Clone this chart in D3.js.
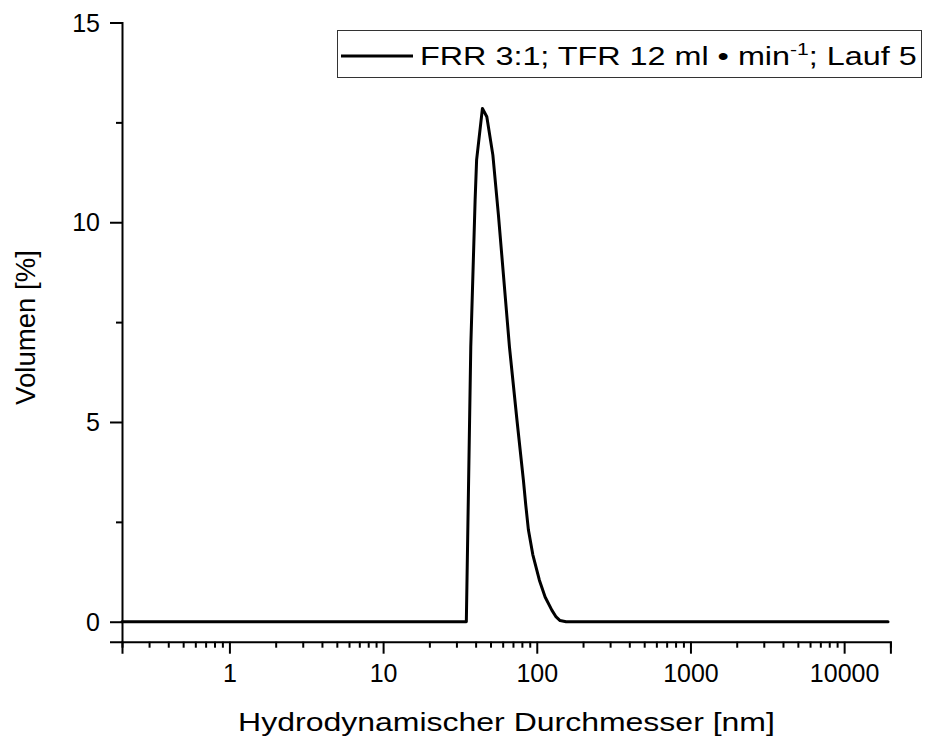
<!DOCTYPE html>
<html>
<head>
<meta charset="utf-8">
<script src="https://cdn.jsdelivr.net/npm/d3@7"></script>
<style>
  html, body { margin: 0; padding: 0; background: #fff; }
  svg { display: block; font-family: "Liberation Sans", Arial, sans-serif; }
</style>
</head>
<body>
<svg id="chart" width="925" height="740"></svg>
<script>
// ---- data ----
const sizes   = [0.2, 34.8, 37.2, 39.7, 40.6, 44.3, 47.3, 51.8, 56.3, 66.4, 74.3, 81.8, 84.8, 88.2, 94.2, 104.0, 113.3, 125.3, 133.6, 141.8, 155.1, 19300];
const volumes = [0,   0,    6.88, 10.56, 11.56, 12.85, 12.64, 11.68, 10.18, 6.88, 5.05, 3.55, 2.92, 2.30, 1.68, 1.04, 0.62, 0.29, 0.12, 0.03, 0, 0];
const xMajorTicks = [1, 10, 100, 1000, 10000];
const yMajorTicks = [0, 5, 10, 15];
const yMinorTicks = [2.5, 7.5, 12.5];
const seriesName = "FRR 3:1; TFR 12 ml \u2022 min";
const xTitle = "Hydrodynamischer Durchmesser [nm]";
const yTitle = "Volumen [%]";

// ---- layout ----
const FONT = '"Liberation Sans", Arial, sans-serif';
const svg = d3.select("#chart");
const x = d3.scaleLog().domain([0.2, 20000]).range([122, 890.4]);
const y = d3.scaleLinear().domain([-0.5, 15]).range([641.7, 22.5]);

// stretch factor so a text element reaches the reference width
function fitWidth(textSel, target) {
  const w = textSel.node().getBBox().width;
  return target / w;
}

// minor x ticks
const xAllTicks = [];
for (let e = -1; e <= 4; e++) {
  for (let m = 1; m <= 9; m++) {
    const v = m * Math.pow(10, e);
    if (v >= 0.2 - 1e-9 && v <= 20000 + 1e-6) xAllTicks.push(+v.toPrecision(6));
  }
}
const isMajorX = v => xMajorTicks.some(t => Math.abs(t - v) / t < 1e-6);

// x axis
const gx = svg.append("g").attr("transform", `translate(0,${y(-0.5)})`)
  .call(d3.axisBottom(x).tickValues(xAllTicks).tickSizeOuter(0).tickSize(12)
        .tickFormat(d => isMajorX(d) ? d3.format("d")(d) : ""));
gx.select(".domain").attr("stroke", "#000").attr("stroke-width", 2);
gx.selectAll(".tick line").attr("stroke", "#000").attr("stroke-width", 2)
  .attr("y2", d => isMajorX(d) ? 12 : 6);
gx.selectAll(".tick text").attr("y", 40).attr("dy", 0)
  .attr("font-size", 25).attr("fill", "#000").attr("font-family", FONT);

// y axis
const gy = svg.append("g").attr("transform", `translate(${x(0.2)},0)`)
  .call(d3.axisLeft(y).tickValues(yMajorTicks.concat(yMinorTicks)).tickSizeOuter(0).tickSize(12)
        .tickFormat(d => yMajorTicks.includes(d) ? d3.format("d")(d) : ""));
gy.select(".domain").attr("stroke", "#000").attr("stroke-width", 2);
gy.selectAll(".tick line").attr("stroke", "#000").attr("stroke-width", 2)
  .attr("x2", d => yMajorTicks.includes(d) ? -12 : -6);
gy.selectAll(".tick text").attr("x", -22).attr("dy", "0.35em")
  .attr("font-size", 25).attr("fill", "#000").attr("font-family", FONT);

// axis titles
const xt = svg.append("text").attr("x", 0).attr("y", 0)
  .attr("text-anchor", "middle").attr("font-size", 26).attr("fill", "#000").text(xTitle);
xt.attr("transform", `translate(506.5,731) scale(${fitWidth(xt, 537)},1)`);

const yt = svg.append("text").attr("x", 0).attr("y", 0)
  .attr("text-anchor", "middle").attr("font-size", 27).attr("fill", "#000").text(yTitle);
yt.attr("transform", `translate(35,327.5) rotate(-90) scale(${fitWidth(yt, 155)},1)`);

// data line
const data = sizes.map((s, i) => ({ s, v: volumes[i] }));
svg.append("path").datum(data)
  .attr("fill", "none").attr("stroke", "#000").attr("stroke-width", 3)
  .attr("stroke-linejoin", "round").attr("stroke-linecap", "round")
  .attr("d", d3.line().x(d => x(d.s)).y(d => y(d.v)));

// legend
const lg = svg.append("g");
lg.append("rect").attr("x", 337.5).attr("y", 30.5).attr("width", 584).attr("height", 47)
  .attr("fill", "#fff").attr("stroke", "#333").attr("stroke-width", 1);
lg.append("line").attr("x1", 341).attr("x2", 413).attr("y1", 56).attr("y2", 56)
  .attr("stroke", "#000").attr("stroke-width", 3);
const lt = lg.append("text").attr("x", 0).attr("y", 0).attr("font-size", 26).attr("fill", "#000");
lt.append("tspan").text(seriesName);
lt.append("tspan").attr("dy", -10).attr("font-size", 17).text("-1");
lt.append("tspan").attr("dy", 10).text("; Lauf 5");
lt.attr("transform", `translate(420,65) scale(${fitWidth(lt, 497)},1)`);
</script>
</body>
</html>
